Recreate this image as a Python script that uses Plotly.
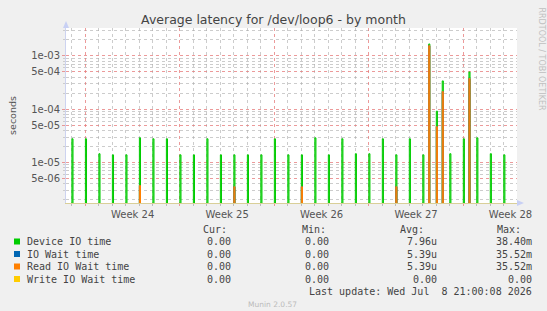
import plotly.graph_objects as go
import pandas as pd

# ---------------- data ----------------
day_times = [
    "2026-06-07", "2026-06-08", "2026-06-09", "2026-06-10", "2026-06-11",
    "2026-06-12", "2026-06-13", "2026-06-14", "2026-06-15", "2026-06-16",
    "2026-06-17", "2026-06-18", "2026-06-19", "2026-06-20", "2026-06-21",
    "2026-06-22", "2026-06-23", "2026-06-24", "2026-06-25", "2026-06-26",
    "2026-06-27", "2026-06-28", "2026-06-29", "2026-06-30", "2026-07-01",
    "2026-07-02", "2026-07-03", "2026-07-04", "2026-07-05", "2026-07-06",
    "2026-07-07", "2026-07-08", "2026-07-09",
]
device_daily = [
    2.78e-5, 2.78e-5, 1.46e-5, 1.39e-5, 1.39e-5,
    2.9e-5, 2.78e-5, 2.78e-5, 1.39e-5, 1.39e-5,
    2.78e-5, 1.39e-5, 1.39e-5, 1.39e-5, 1.39e-5,
    2.78e-5, 1.39e-5, 1.39e-5, 2.9e-5, 1.39e-5,
    2.78e-5, 1.46e-5, 1.46e-5, 2.78e-5, 1.39e-5,
    2.78e-5, 1.39e-5, 9.2e-5, 1.46e-5, 2.78e-5,
    2.9e-5, 1.46e-5, 1.39e-5,
]
read_daily = [
    0, 0, 0, 0, 0,
    3.7e-6, 0, 0, 0, 0,
    0, 0, 3.5e-6, 0, 0,
    0, 0, 3.5e-6, 0, 0,
    0, 0, 0, 0, 3.5e-6,
    0, 0, 4.7e-5, 0, 0,
    0, 0, 0,
]
extra_times = ["2026-07-03 10:30", "2026-07-04 10:30", "2026-07-06 10:00"]
device_extra = [1.68e-3, 3.4e-4, 5.0e-4]
read_extra = [1.56e-3, 2.14e-4, 3.76e-4]

series_names = ["Device IO time", "IO Wait time", "Read IO Wait time", "Write IO Wait time"]
series_colors = ["#00CC00", "#0066B3", "#FF8000", "#FFCC00"]
stat_cur = ["0.00", "0.00", "0.00", "0.00"]
stat_min = ["0.00", "0.00", "0.00", "0.00"]
stat_avg = ["7.96u", "5.39u", "5.39u", "0.00"]
stat_max = ["38.40m", "35.52m", "35.52m", "0.00"]

week_starts = ["2026-06-08", "2026-06-15", "2026-06-22", "2026-06-29", "2026-07-06"]
week_mid = ["2026-06-11 12:00", "2026-06-18 12:00", "2026-06-25 12:00",
            "2026-07-02 12:00", "2026-07-09 12:00"]
week_labels = ["Week 24", "Week 25", "Week 26", "Week 27", "Week 28"]
grid_days = ["2026-06-07", "2026-06-09", "2026-06-10", "2026-06-11", "2026-06-12",
             "2026-06-13", "2026-06-14", "2026-06-16", "2026-06-17", "2026-06-18",
             "2026-06-19", "2026-06-20", "2026-06-21", "2026-06-23", "2026-06-24",
             "2026-06-25", "2026-06-26", "2026-06-27", "2026-06-28", "2026-06-30",
             "2026-07-01", "2026-07-02", "2026-07-03", "2026-07-04", "2026-07-05",
             "2026-07-07", "2026-07-08", "2026-07-09"]
x_range = ["2026-06-06 13:30", "2026-07-09 23:30"]

y_major = [5e-6, 1e-5, 5e-5, 1e-4, 5e-4, 1e-3]
y_major_text = ["5e-06", "1e-05", "5e-05", "1e-04", "5e-04", "1e-03"]
y_minor = [2e-6, 3e-6, 4e-6, 6e-6, 7e-6, 8e-6, 9e-6,
           2e-5, 3e-5, 4e-5, 6e-5, 7e-5, 8e-5, 9e-5,
           2e-4, 3e-4, 4e-4, 6e-4, 7e-4, 8e-4, 9e-4, 2e-3, 3e-3]
y_range_log = [-5.761, -2.475]

FLOOR = 1e-9                      # below axis: spikes rise from the bottom edge
SPIKE_W = pd.Timedelta(hours=2)   # one consolidated 2h sample

# ---------------- layout helpers ----------------
W, H = 547, 311
PL, PR, PT, PB = 66, 517, 28, 203


def px(xp):
    return (xp - PL) / (PR - PL)


def py(yp):
    return (PB - yp) / (PB - PT)


def spike_path(times, values):
    xs, ys = [], []
    for t, v in zip(times, values):
        if not v:
            continue
        t0 = pd.Timestamp(t)
        t1 = t0 + SPIKE_W
        xs += [t0, t0, t1, t1, None]
        ys += [FLOOR, v, v, FLOOR, None]
    return xs, ys


all_times = day_times + extra_times
device_all = device_daily + device_extra
read_all = read_daily + read_extra
iowait_all = read_all
write_all = [0] * len(all_times)

fig = go.Figure()
fills = ["rgba(60,215,60,0.75)", "rgba(0,102,179,0.6)", "rgba(230,120,20,0.85)", "rgba(255,204,0,0.6)"]
for vals, col, fc, name in zip([device_all, iowait_all, read_all, write_all],
                               series_colors, fills, series_names):
    xs, ys = spike_path(all_times, vals)
    if not xs:
        continue
    fig.add_trace(go.Scatter(x=xs, y=ys, mode="lines", name=name,
                             line=dict(color=col, width=1), fill="toself",
                             fillcolor=fc, hoverinfo="skip", showlegend=False))

# invisible trace for the label axis
fig.add_trace(go.Scatter(x=[x_range[0]], y=[1e-3], xaxis="x2", mode="markers",
                         marker=dict(opacity=0), hoverinfo="skip", showlegend=False))

RED = "rgba(230,120,120,0.75)"
GRAY = "rgba(170,170,170,0.6)"
TICKFONT = dict(family="DejaVu Sans", size=10, color="#555555")

fig.update_layout(
    width=W, height=H,
    margin=dict(l=PL, r=W - PR, t=PT, b=H - PB, pad=0),
    paper_bgcolor="#F0F0F0", plot_bgcolor="#FFFFFF",
    showlegend=False,
    title=dict(text="Average latency for /dev/loop6 - by month",
               x=0.5, xref="container", xanchor="center",
               y=1 - 20 / H, yref="container", yanchor="middle",
               font=dict(family="DejaVu Sans", size=12.5, color="#444444")),
    xaxis=dict(type="date", range=x_range, tickmode="array", tickvals=week_starts,
               showticklabels=False, showgrid=True, gridcolor=RED, griddash="dot",
               gridwidth=1, ticks="outside", ticklen=2, tickcolor=RED,
               showline=True, linecolor="#d9cf98", linewidth=1, zeroline=False,
               minor=dict(tickmode="array", tickvals=grid_days, showgrid=True,
                          gridcolor=GRAY, griddash="dot", gridwidth=1,
                          ticks="outside", ticklen=2, tickcolor="#bbbbbb")),
    xaxis2=dict(type="date", range=x_range, overlaying="x", anchor="y", side="bottom",
                tickmode="array", tickvals=week_mid, ticktext=week_labels,
                showgrid=False, showline=False, zeroline=False, ticks="",
                tickfont=TICKFONT, ticklabelstandoff=4),
    yaxis=dict(type="log", range=y_range_log, tickmode="array", tickvals=y_major,
               ticktext=y_major_text, tickfont=TICKFONT, showgrid=True,
               gridcolor=RED, griddash="dot", gridwidth=1, ticks="outside",
               ticklen=3, tickcolor=RED, showline=True, linecolor="#cdd3f0",
               linewidth=1, zeroline=False,
               title=dict(text="seconds", standoff=12,
                          font=dict(family="DejaVu Sans", size=9.5, color="#555555")),
               minor=dict(tickmode="array", tickvals=y_minor, showgrid=True,
                          gridcolor=GRAY, griddash="dot", gridwidth=1,
                          ticks="outside", ticklen=2, tickcolor="#cccccc")),
)

# axis arrows
AX = "#c8d0f4"
fig.add_shape(type="path", xref="paper", yref="paper",
              path=f"M {px(63)} {py(28)} L {px(69)} {py(28)} L {px(66)} {py(21)} Z",
              fillcolor=AX, line=dict(width=0))
fig.add_shape(type="path", xref="paper", yref="paper",
              path=f"M {px(517)} {py(200)} L {px(517)} {py(206)} L {px(524)} {py(203)} Z",
              fillcolor=AX, line=dict(width=0))

MONO = "DejaVu Sans Mono"
TXT = "#444444"


def ann(text, x, y, xanchor="left", size=10, color=TXT, family=MONO, angle=0):
    fig.add_annotation(text=text, x=px(x), y=py(y), xref="paper", yref="paper",
                       xanchor=xanchor, yanchor="middle", showarrow=False,
                       textangle=angle, borderpad=0,
                       font=dict(family=family, size=size, color=color))


# legend table
ann("Cur:", 202, 229.6)
ann("Min:", 300.5, 229.6)
ann("Avg:", 398.5, 229.6)
ann("Max:", 496, 229.6)
row_y = [241.5, 254, 266.5, 279]
for i, yv in enumerate(row_y):
    fig.add_shape(type="rect", xref="paper", yref="paper",
                  x0=px(14), x1=px(20), y0=py(yv + 3), y1=py(yv - 3),
                  fillcolor=series_colors[i], line=dict(width=0))
    ann(series_names[i], 26, yv)
    ann(stat_cur[i], 231.5, yv, xanchor="right")
    ann(stat_min[i], 330, yv, xanchor="right")
    ann(stat_avg[i], 438, yv, xanchor="right")
    ann(stat_max[i], 533, yv, xanchor="right")
ann("Last update: Wed Jul  8 21:00:08 2026", 533, 291.7, xanchor="right")
ann("Munin 2.0.57", 272.7, 304.6, xanchor="center", size=7.5, color="#bbbbbb",
    family="DejaVu Sans")
fig.add_annotation(text="RRDTOOL / TOBI OETIKER", x=px(541), y=py(5), xref="paper",
                   yref="paper", xanchor="center", yanchor="top", showarrow=False,
                   textangle=90, font=dict(family="DejaVu Sans", size=8, color="#c0c0c0"))

fig.write_html("out.html")
